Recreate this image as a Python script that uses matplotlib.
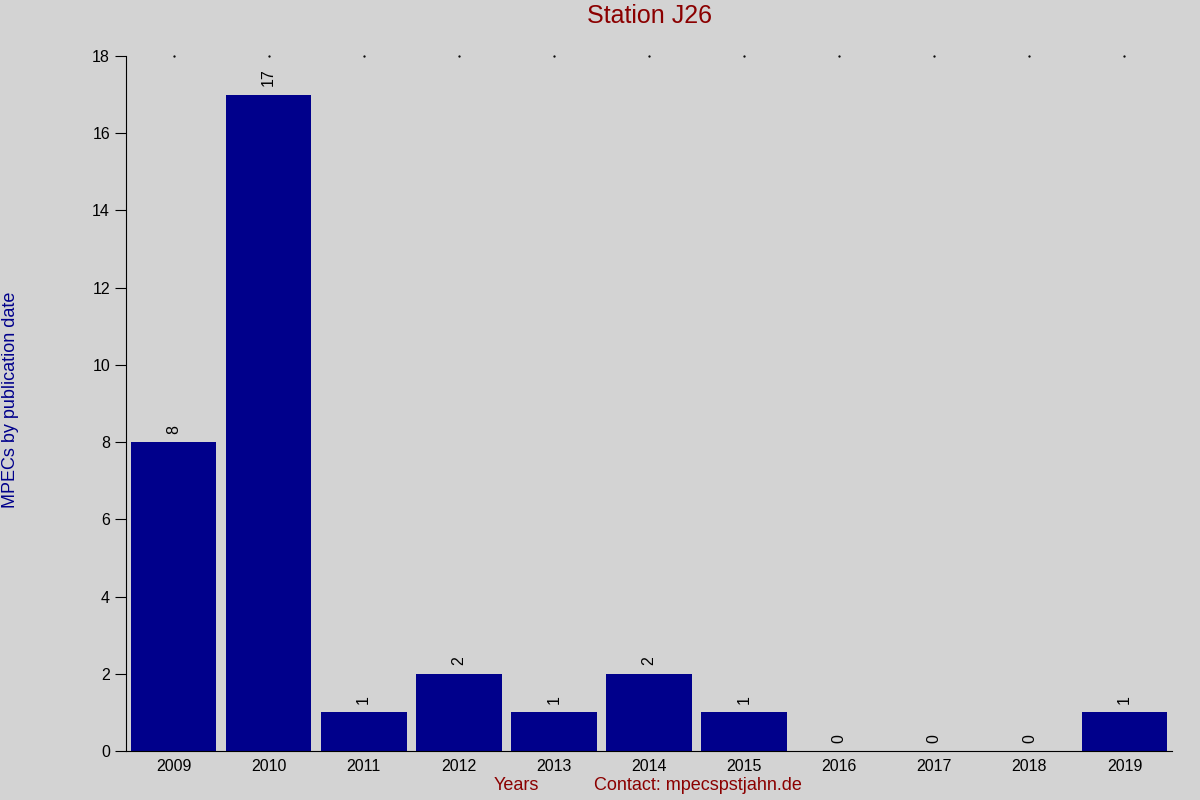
import matplotlib.pyplot as plt
import numpy as np

years = ['2009', '2010', '2011', '2012', '2013', '2014', '2015', '2016', '2017', '2018', '2019']
mpecs = [8, 17, 1, 2, 1, 2, 1, 0, 0, 0, 1]

bg = '#d3d3d3'
plt.rcParams['font.family'] = ['Liberation Sans', 'DejaVu Sans']

fig = plt.figure(figsize=(12, 8), dpi=100, facecolor=bg)
ax = fig.add_axes([0.105, 0.06125, 0.8717, 0.86875])
ax.set_facecolor(bg)

x = np.arange(len(years))
ax.bar(x, mpecs, width=0.9, color='#00008b')

for xi, v in zip(x, mpecs):
    ax.text(xi, v + 0.22, str(v), rotation=90, ha='center', va='bottom', fontsize=11.5)

# little dots along the top
ax.scatter(x, [18] * len(x), s=0.4, color='black', clip_on=False)

ax.set_xlim(-0.5, 10.5)
ax.set_ylim(0, 18)
ax.set_yticks(range(0, 19, 2))
ax.set_xticks(x)
ax.set_xticklabels(years)
ax.tick_params(axis='x', length=0, labelsize=11.5, pad=6)
ax.tick_params(axis='y', length=8, labelsize=11.5, direction='out')

ax.spines['top'].set_visible(False)
ax.spines['right'].set_visible(False)

ax.set_title('Station J26', color='#8b0000', fontsize=18, pad=24)
fig.text(0.009, 0.5, 'MPECs by publication date', color='#00008b', fontsize=13,
         rotation=90, ha='center', va='center')
fig.text(0.43, 0.0175, 'Years', color='#8b0000', fontsize=13, ha='center', va='center')
fig.text(0.582, 0.0175, 'Contact: mpecspstjahn.de', color='#8b0000', fontsize=13, ha='center', va='center')

fig.savefig('out.png', dpi=100, facecolor=bg)
